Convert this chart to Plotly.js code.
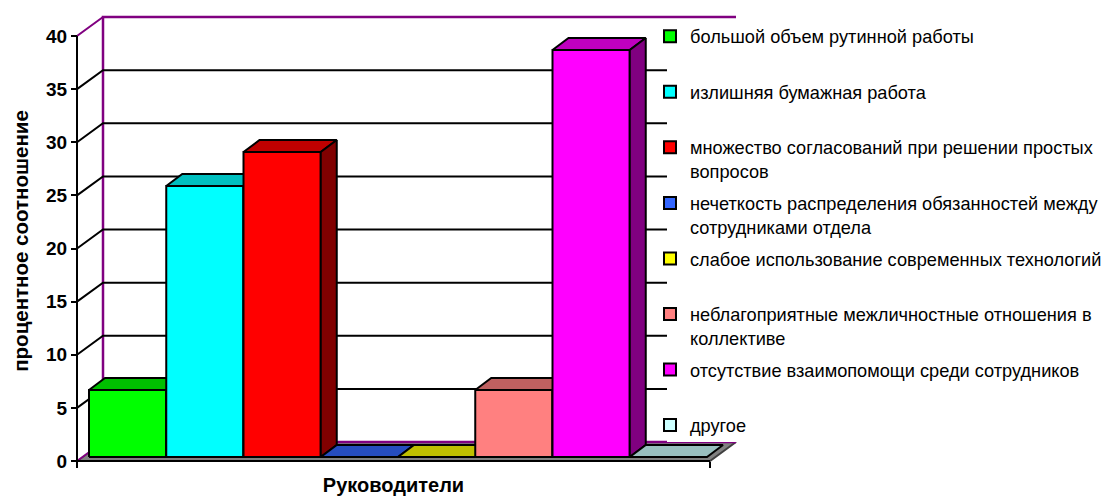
<!DOCTYPE html>
<html><head><meta charset="utf-8">
<script src="https://cdn.plot.ly/plotly-3.0.1.min.js"></script>
<style>html,body{margin:0;padding:0;background:#fff}#chart{width:1110px;height:496px}</style>
</head><body><div id="chart"></div>
<script>
// ---------- data ----------
const categories = [
  "большой объем рутинной работы",
  "излишняя бумажная работа",
  "множество согласований при решении простых<br>вопросов",
  "нечеткость распределения обязанностей между<br>сотрудниками отдела",
  "слабое использование современных технологий",
  "неблагоприятные межличностные отношения в<br>коллективе",
  "отсутствие взаимопомощи среди сотрудников",
  "другое"
];
const values = [6.3, 25.5, 28.7, 0, 0, 6.3, 38.3, 0];
const colors = ["#00FF00", "#00FFFF", "#FF0000", "#3366FF", "#FFFF00", "#FF8080", "#FF00FF", "#CCFFFF"];
const yTicks = [0, 5, 10, 15, 20, 25, 30, 35, 40];
const groupLabel = "Руководители";
const yTitle = "процентное соотношение";

// ---------- geometry (pixels -> axis units) ----------
const FIG_W = 1110, FIG_H = 496;
const plotL = 50, plotR = 737, plotT = 8, plotB = 474;
const orgX = 77, orgY = 461;          // front-left-bottom corner
const pxX = 77.25, pxY = 10.625;      // px per x unit / y unit
const xRange = [(plotL - orgX) / pxX, (plotR - orgX) / pxX];
const yRange = [(orgY - plotB) / pxY, (orgY - plotT) / pxY];
const wallDX = 26 / pxX, wallDY = 19 / pxY;
const barDX = 16 / pxX, barDY = 12 / pxY;
const barBase = 4 / pxY;
const barStart = 12 / pxX;
const floorRight = (710 - orgX) / pxX;
const backRight = floorRight + wallDX;
const yMax = yTicks[yTicks.length - 1];
const legendLeftPx = 667;
const legendCut = (legendLeftPx - orgX) / pxX;

function shade(hex, f) {
  const n = parseInt(hex.slice(1), 16);
  const r = Math.round(((n >> 16) & 255) * f), g = Math.round(((n >> 8) & 255) * f), b = Math.round((n & 255) * f);
  return "rgb(" + r + "," + g + "," + b + ")";
}
function poly(xs, ys, fill, lineColor, lw) {
  return {type: "scatter", mode: "lines", x: xs, y: ys, fill: fill ? "toself" : "none",
    fillcolor: fill || undefined, line: {color: lineColor, width: lw}, hoverinfo: "skip", showlegend: false};
}
const traces = [];
// floor
traces.push(poly([0, floorRight, backRight, wallDX, 0], [0, 0, wallDY, wallDY, 0], "#808080", "#404040", 2));
// left wall
traces.push(poly([0, wallDX, wallDX, 0, 0], [0, wallDY, yMax + wallDY, yMax, 0], "#FFFFFF", "#800080", 2));
// back wall (right side hidden by legend)
traces.push(poly([backRight, wallDX, wallDX, backRight], [yMax + wallDY, yMax + wallDY, wallDY, wallDY], "#FFFFFF", "#800080", 2.5));
// gridlines
yTicks.filter(v => v > 0 && v < yMax).forEach(v => {
  traces.push(poly([0, wallDX, legendCut], [v, v + wallDY, v + wallDY], null, "#000000", 2));
});
// bars (painter's order, left to right)
values.forEach((v, i) => {
  const x0 = barStart + i, x1 = x0 + 1, b = barBase, t = barBase + v;
  if (v > 0) traces.push(poly([x0, x1, x1, x0, x0], [b, b, t, t, b], colors[i], "#000000", 2));
  traces.push(poly([x0, x1, x1 + barDX, x0 + barDX, x0], [t, t, t + barDY, t + barDY, t], shade(colors[i], 0.75), "#000000", 2));
  if (v > 0) traces.push(poly([x1, x1 + barDX, x1 + barDX, x1, x1], [b, b + barDY, t + barDY, t, b], shade(colors[i], 0.5), "#000000", 2));
});
// axis lines
traces.push(poly([0, floorRight], [0, 0], null, "#000000", 2));
traces.push(poly([0, 0], [0, yMax], null, "#000000", 2));
// legend entries
categories.forEach((c, i) => {
  traces.push({type: "bar", x: [null], y: [null], name: c.indexOf("<br>") < 0 ? c + "<br> " : c,
    legendgroup: "g" + i, marker: {color: colors[i], line: {color: "#000000", width: 2}}, hoverinfo: "skip"});
});

const FONT = "Liberation Sans, Arial, sans-serif";
const layout = {
  width: FIG_W, height: FIG_H,
  margin: {l: plotL, r: FIG_W - plotR, t: plotT, b: FIG_H - plotB, pad: 0, autoexpand: false},
  paper_bgcolor: "#FFFFFF", plot_bgcolor: "rgba(0,0,0,0)",
  font: {family: FONT, color: "#000000"},
  showlegend: true,
  xaxis: {range: xRange, anchor: "free", position: (plotB - orgY) / (plotB - plotT),
    showgrid: false, zeroline: false, showline: false,
    tickmode: "array", tickvals: [0, floorRight], ticktext: ["", ""], ticks: "outside", ticklen: 6, tickwidth: 2, tickcolor: "#000000",
    title: {text: groupLabel, font: {family: FONT, size: 20, weight: "bold"}, standoff: 8}, fixedrange: true},
  yaxis: {range: yRange, anchor: "free", position: (orgX - plotL) / (plotR - plotL),
    showgrid: false, zeroline: false, showline: false,
    tickmode: "array", tickvals: yTicks, ticks: "outside", ticklen: 6, tickwidth: 2, tickcolor: "#000000",
    tickfont: {family: FONT, size: 19, weight: "bold"},
    title: {text: yTitle, font: {family: FONT, size: 20.5, weight: "bold"}, standoff: 10}, fixedrange: true},
  legend: {xref: "container", yref: "container", x: 650 / FIG_W, y: 1 - 18 / FIG_H, xanchor: "left", yanchor: "top",
    maxheight: 475,
    bgcolor: "rgba(0,0,0,0)", borderwidth: 0, traceorder: "grouped", tracegroupgap: 5.2, valign: "top",
    font: {family: FONT, size: 18.2, color: "#000000"}},
  shapes: [{type: "rect", xref: "paper", yref: "paper", layer: "above",
    x0: (legendLeftPx - plotL) / (plotR - plotL), x1: (FIG_W - plotL) / (plotR - plotL),
    y0: (plotB - 442) / (plotB - plotT), y1: (plotB - 20) / (plotB - plotT),
    fillcolor: "#FFFFFF", line: {width: 0}}]
};
Plotly.newPlot("chart", traces, layout, {staticPlot: true, displayModeBar: false});
</script></body></html>
